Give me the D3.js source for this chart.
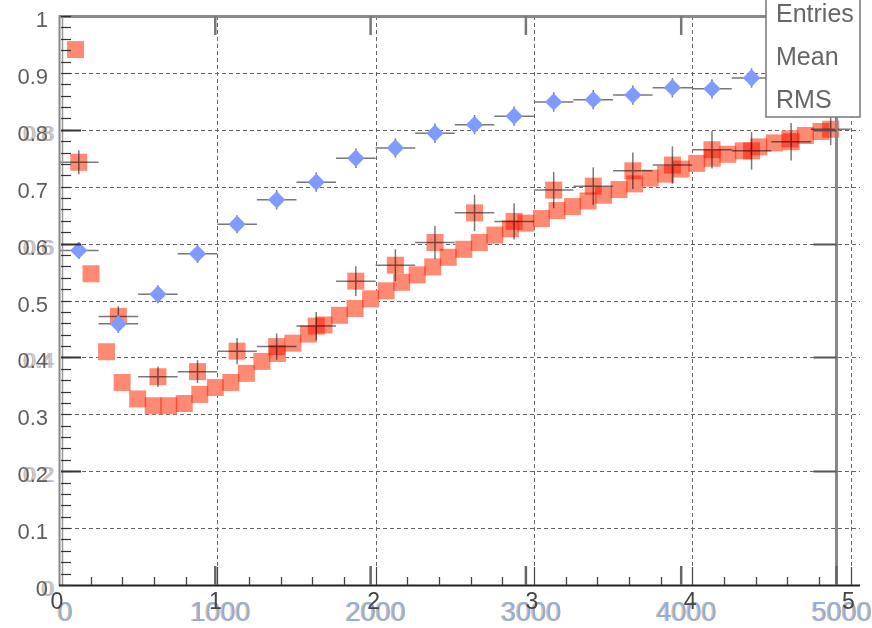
<!DOCTYPE html>
<html>
<head>
<meta charset="utf-8">
<script src="https://cdn.jsdelivr.net/npm/d3@7"></script>
<style>
  html, body { margin: 0; padding: 0; background: #fff; }
  svg { display: block; font-family: "Liberation Sans", Arial, sans-serif; }
</style>
</head>
<body>
<svg id="chart" width="872" height="628"></svg>
<script>
// fine binning (salmon band), on the 0-5000 axis
const fineX = [100, 200, 300, 400, 500, 600, 700, 800, 900, 1000, 1100, 1200, 1300, 1400, 1500,
  1600, 1700, 1800, 1900, 2000, 2100, 2200, 2300, 2400, 2500, 2600, 2700, 2800, 2900, 3000,
  3100, 3200, 3300, 3400, 3500, 3600, 3700, 3800, 3900, 4000, 4100, 4200, 4300, 4400, 4500,
  4600, 4700, 4800, 4900]
const fineY = [0.941, 0.547, 0.410, 0.356, 0.327, 0.315, 0.315, 0.319, 0.335, 0.347, 0.356, 0.372,
  0.393, 0.407, 0.425, 0.441, 0.457, 0.474, 0.486, 0.503, 0.517, 0.532, 0.545, 0.559, 0.576,
  0.590, 0.602, 0.615, 0.626, 0.636, 0.644, 0.658, 0.665, 0.675, 0.685, 0.695, 0.705, 0.715,
  0.722, 0.731, 0.741, 0.750, 0.757, 0.763, 0.770, 0.777, 0.784, 0.790, 0.797]

// coarse binning with errors (salmon squares), on the 0-5 axis
const coarseX = [0.125, 0.375, 0.625, 0.875, 1.125, 1.375, 1.625, 1.875, 2.125, 2.375,
  2.625, 2.875, 3.125, 3.375, 3.625, 3.875, 4.125, 4.375, 4.625, 4.875]
const coarseY = [0.743, 0.472, 0.366, 0.375, 0.411, 0.419, 0.455, 0.534, 0.562, 0.602,
  0.654, 0.639, 0.694, 0.701, 0.728, 0.738, 0.765, 0.763, 0.779, 0.801]
const coarseErr = [0.021, 0.018, 0.018, 0.020, 0.023, 0.023, 0.025, 0.026, 0.028, 0.029,
  0.032, 0.032, 0.032, 0.033, 0.032, 0.033, 0.033, 0.033, 0.033, 0.028]
const binHalf = 0.125

// blue diamonds, on the 0-5 axis
const blueX = [0.125, 0.375, 0.625, 0.875, 1.125, 1.375, 1.625, 1.875, 2.125, 2.375,
  2.625, 2.875, 3.125, 3.375, 3.625, 3.875, 4.125, 4.375]
const blueY = [0.588, 0.459, 0.511, 0.582, 0.634, 0.677, 0.708, 0.750, 0.768, 0.794,
  0.809, 0.824, 0.849, 0.853, 0.861, 0.874, 0.872, 0.891]
const blueErr = [0.015, 0.016, 0.016, 0.016, 0.016, 0.017, 0.017, 0.017, 0.017, 0.017,
  0.017, 0.017, 0.017, 0.017, 0.017, 0.017, 0.017, 0.017]

// axis ticks and labels
const yTicks = [0, 0.1, 0.2, 0.3, 0.4, 0.5, 0.6, 0.7, 0.8, 0.9, 1]
const yTickLabels = ["0", "0.1", "0.2", "0.3", "0.4", "0.5", "0.6", "0.7", "0.8", "0.9", "1"]
const yGhostTicks = [0, 0.2, 0.4, 0.6, 0.8]
const unitTicks = [0, 1, 2, 3, 4, 5]
const kTicks = [0, 1000, 2000, 3000, 4000, 5000]
const statsLabels = ["Entries", "Mean", "RMS"]

const W = 872, H = 628
const x5 = d3.scaleLinear().domain([0, 5.06]).range([59, 860])
const xK = d3.scaleLinear().domain([0, 5000]).range([60, 836.5])
const y = d3.scaleLinear().domain([0, 1]).range([585, 16])

const salmon = "#ff8a74"
const blue = "#7f9bff"
const sq = 17

const svg = d3.select("#chart")
svg.append("rect").attr("width", W).attr("height", H).attr("fill", "#fff")

// Grid
const grid = svg.append("g").attr("stroke", "#666").attr("stroke-width", 1)
  .attr("stroke-dasharray", "4,3")
grid.selectAll("line.h").data(yTicks.filter(v => v > 0 && v < 1)).join("line")
  .attr("x1", 61).attr("x2", 860)
  .attr("y1", d => Math.round(y(d)) + 0.5).attr("y2", d => Math.round(y(d)) + 0.5)
grid.selectAll("line.v").data(unitTicks.filter(v => v > 0)).join("line")
  .attr("x1", d => Math.round(x5(d)) + 0.5).attr("x2", d => Math.round(x5(d)) + 0.5)
  .attr("y1", 16).attr("y2", 585)

// Salmon series, overlaps darken like the original transparent markers
const red = svg.append("g").style("isolation", "isolate")
const fine = fineX.map((v, i) => ({ x: v, y: fineY[i] }))
const coarse = coarseX.map((v, i) => ({ x: v, y: coarseY[i], e: coarseErr[i] }))

red.selectAll("rect.fine").data(fine).join("rect")
  .attr("x", d => xK(d.x) - sq / 2).attr("y", d => y(d.y) - sq / 2)
  .attr("width", sq).attr("height", sq)
  .attr("fill", salmon).style("mix-blend-mode", "multiply")

const cBars = red.append("g").attr("stroke", "#7a7a7a").attr("stroke-width", 1.5)
  .style("mix-blend-mode", "multiply")
cBars.selectAll("line.hx").data(coarse).join("line")
  .attr("x1", d => x5(d.x - binHalf)).attr("x2", d => x5(d.x + binHalf))
  .attr("y1", d => y(d.y)).attr("y2", d => y(d.y))
cBars.selectAll("line.vy").data(coarse).join("line")
  .attr("x1", d => x5(d.x)).attr("x2", d => x5(d.x))
  .attr("y1", d => y(d.y - d.e)).attr("y2", d => y(d.y + d.e))

red.selectAll("rect.coarse").data(coarse).join("rect")
  .attr("x", d => x5(d.x) - sq / 2).attr("y", d => y(d.y) - sq / 2)
  .attr("width", sq).attr("height", sq)
  .attr("fill", salmon).style("mix-blend-mode", "multiply")

// Blue series
const blues = blueX.map((v, i) => ({ x: v, y: blueY[i], e: blueErr[i] }))
const bBars = svg.append("g").attr("stroke", "#777").attr("stroke-width", 1.5)
bBars.selectAll("line.hx").data(blues).join("line")
  .attr("x1", d => x5(d.x - binHalf)).attr("x2", d => x5(d.x + binHalf))
  .attr("y1", d => y(d.y)).attr("y2", d => y(d.y))
bBars.selectAll("line.vy").data(blues).join("line")
  .attr("x1", d => x5(d.x)).attr("x2", d => x5(d.x))
  .attr("y1", d => y(d.y - d.e)).attr("y2", d => y(d.y + d.e))
svg.append("g").selectAll("path").data(blues).join("path")
  .attr("d", d3.symbol(d3.symbolSquare, 150))
  .attr("transform", d => `translate(${x5(d.x)},${y(d.y)}) rotate(45)`)
  .attr("fill", blue)

// Frame lines
const frame = svg.append("g")
frame.append("line").attr("x1", 60).attr("x2", 860).attr("y1", 16.5).attr("y2", 16.5)
  .attr("stroke", "#888").attr("stroke-width", 3)
frame.append("line").attr("x1", 59.5).attr("x2", 59.5).attr("y1", 15).attr("y2", 586)
  .attr("stroke", "#888").attr("stroke-width", 2)
frame.append("line").attr("x1", 62.5).attr("x2", 62.5).attr("y1", 15).attr("y2", 586)
  .attr("stroke", "#999").attr("stroke-width", 1.5)
frame.append("line").attr("x1", xK(5000)).attr("x2", xK(5000)).attr("y1", 16).attr("y2", 585)
  .attr("stroke", "#888").attr("stroke-width", 3)
frame.append("line").attr("x1", 59).attr("x2", 860).attr("y1", 585.5).attr("y2", 585.5)
  .attr("stroke", "#222").attr("stroke-width", 2)

// Y ticks, left side
const minorY = d3.range(0, 1.0001, 0.02)
frame.selectAll("line.my").data(minorY).join("line")
  .attr("x1", 61).attr("x2", 71)
  .attr("y1", d => Math.round(y(d)) + 0.5).attr("y2", d => Math.round(y(d)) + 0.5)
  .attr("stroke", "#333").attr("stroke-width", 1.2)
frame.selectAll("line.gy").data(yGhostTicks.filter(v => v > 0)).join("line")
  .attr("x1", 61).attr("x2", 81)
  .attr("y1", d => Math.round(y(d)) + 0.5).attr("y2", d => Math.round(y(d)) + 0.5)
  .attr("stroke", "#333").attr("stroke-width", 2)
// right side ticks on the 0-5000 frame
frame.selectAll("line.ry").data(yGhostTicks.filter(v => v > 0)).join("line")
  .attr("x1", xK(5000) - 23).attr("x2", xK(5000))
  .attr("y1", d => Math.round(y(d)) + 0.5).attr("y2", d => Math.round(y(d)) + 0.5)
  .attr("stroke", "#555").attr("stroke-width", 2)

// X ticks
const minorX = d3.range(0.2, 5.01, 0.2).filter(v => Math.abs(v - Math.round(v)) > 0.01)
frame.selectAll("line.mx").data(minorX).join("line")
  .attr("x1", d => Math.round(x5(d)) + 0.5).attr("x2", d => Math.round(x5(d)) + 0.5)
  .attr("y1", 585).attr("y2", 577)
  .attr("stroke", "#444").attr("stroke-width", 1.3)
frame.selectAll("line.ux").data(unitTicks.filter(v => v > 0)).join("line")
  .attr("x1", d => Math.round(x5(d)) + 0.5).attr("x2", d => Math.round(x5(d)) + 0.5)
  .attr("y1", 585).attr("y2", 567)
  .attr("stroke", "#444").attr("stroke-width", 1.2)
frame.selectAll("line.kx").data(kTicks.filter(v => v > 0)).join("line")
  .attr("x1", d => xK(d)).attr("x2", d => xK(d))
  .attr("y1", 585).attr("y2", 566)
  .attr("stroke", "#666").attr("stroke-width", 2.5)
frame.selectAll("line.tx").data(kTicks.filter(v => v > 0)).join("line")
  .attr("x1", d => xK(d)).attr("x2", d => xK(d))
  .attr("y1", 16).attr("y2", 35)
  .attr("stroke", "#777").attr("stroke-width", 2.5)

// Labels
const labels = svg.append("g")
// faint doubled labels from the second frame
labels.selectAll("text.go").data(yGhostTicks).join("text")
  .attr("x", 53).attr("y", d => y(d) + 11)
  .attr("text-anchor", "end").attr("font-size", 22)
  .attr("fill", "#d8aa7a").attr("opacity", 0.8)
  .text(d => yTickLabels[yTicks.indexOf(d)])
labels.selectAll("text.gb").data(yGhostTicks).join("text")
  .attr("x", 55).attr("y", d => y(d) + 11)
  .attr("text-anchor", "end").attr("font-size", 22)
  .attr("fill", "#9dbbe6").attr("opacity", 0.8)
  .text(d => yTickLabels[yTicks.indexOf(d)])
labels.selectAll("text.yl").data(yTicks).join("text")
  .attr("x", 48).attr("y", d => y(d) + 11)
  .attr("text-anchor", "end").attr("font-size", 22)
  .attr("fill", "#5e5e5e")
  .text((d, i) => yTickLabels[i])

labels.selectAll("text.ko").data(kTicks).join("text")
  .attr("x", d => xK(d) + 4).attr("y", 621)
  .attr("text-anchor", "middle").attr("font-size", 27)
  .attr("fill", "#e0b080").attr("opacity", 0.8)
  .text(d => String(d))
labels.selectAll("text.kb").data(kTicks).join("text")
  .attr("x", d => xK(d) + 5.5).attr("y", 621)
  .attr("text-anchor", "middle").attr("font-size", 27)
  .attr("fill", "#8aaee6")
  .text(d => String(d))
labels.selectAll("text.ul").data(unitTicks).join("text")
  .attr("x", d => x5(d) - 2).attr("y", 609)
  .attr("text-anchor", "middle").attr("font-size", 23)
  .attr("fill", "#444")
  .text(d => String(d))

// Stats box
const stats = svg.append("g")
stats.append("rect").attr("x", 766).attr("y", -2).attr("width", 94).attr("height", 119)
  .attr("fill", "#fff").attr("stroke", "#777").attr("stroke-width", 1.5)
stats.selectAll("text").data(statsLabels).join("text")
  .attr("x", 776).attr("y", (d, i) => 22 + i * 43)
  .attr("font-size", 25).attr("fill", "#666")
  .text(d => d)
</script>
</body>
</html>
